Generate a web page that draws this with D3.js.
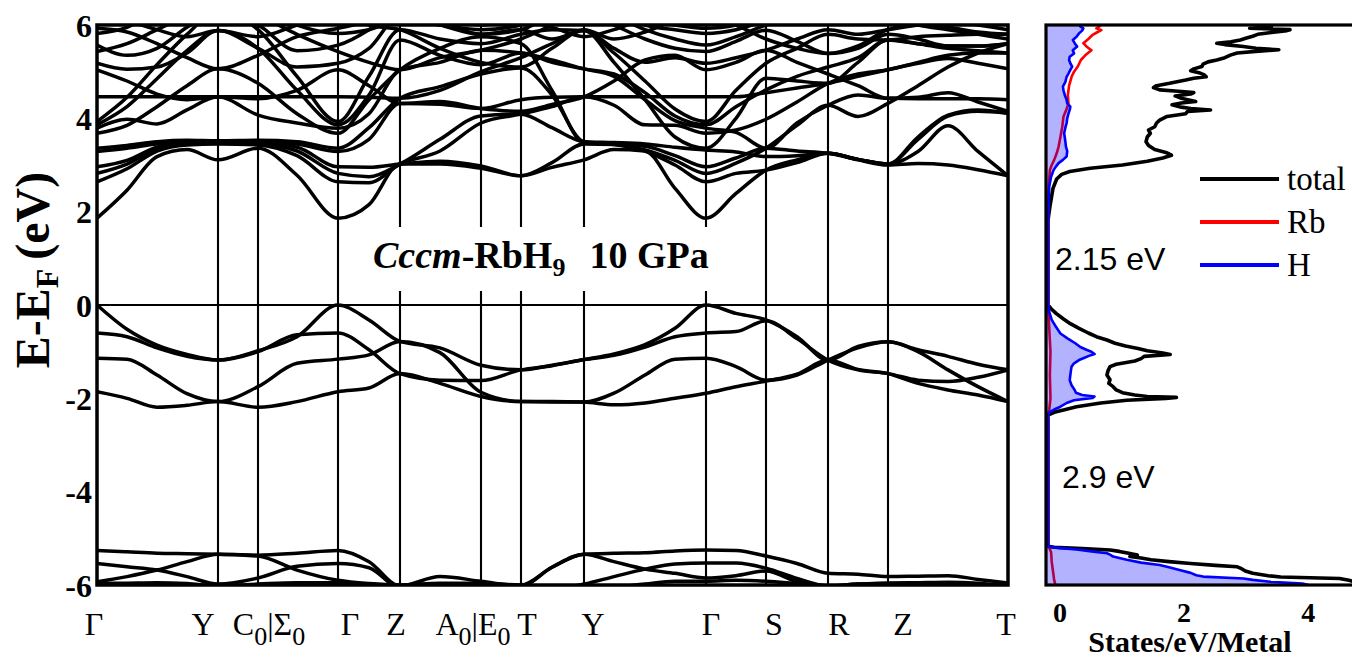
<!DOCTYPE html>
<html>
<head>
<meta charset="utf-8">
<script src="https://cdn.jsdelivr.net/npm/d3@7"></script>
<style>
  body { margin: 0; background: #fff; }
  text { fill: #000; }
</style>
</head>
<body>
<svg id="fig" width="1352" height="660"></svg>
<script>
// ---------- k-path ----------
const kTickPos = [0, 121, 161, 241, 303, 384, 424, 487, 609, 669, 731, 791, 911];
const kTickLabels = [["Γ"], ["Y"], ["C", "0", "|Σ", "0"], ["Γ"], ["Z"], ["A", "0", "|E", "0"], ["T"], ["Y"], ["Γ"], ["S"], ["R"], ["Z"], ["T"]];
// sampled k positions along the path (same for every band)
const kNodes = [0, 30, 60, 90, 121, 161, 200, 241, 272, 303, 343, 384, 424, 455, 487, 517, 548, 578, 609, 639, 669, 700, 731, 761, 791, 821, 851, 881, 911];

// ---------- energies (eV) of each band at kNodes ----------
const valenceBands = [
  [0, -0.52, -0.86, -1.06, -1.18, -0.98, -0.68, 0, -0.32, -0.78, -0.92, -1.29, -1.39, -1.29, -1.17, -1.05, -0.85, -0.50, 0, -0.18, -0.32, -0.68, -1.18, -0.89, -0.79, -0.96, -1.10, -1.27, -1.39],
  [-0.60, -0.68, -0.92, -1.10, -1.18, -1.00, -0.64, -0.60, -0.96, -1.47, -1.61, -1.62, -1.39, -1.30, -1.17, -1.08, -0.90, -0.68, -0.60, -0.57, -0.34, -0.72, -1.18, -1.39, -1.47, -1.61, -1.64, -1.55, -1.39],
  [-1.14, -1.16, -1.50, -1.90, -2.07, -1.75, -1.25, -1.16, -1.07, -0.78, -1.02, -1.87, -2.07, -2.08, -2.08, -1.89, -1.50, -1.16, -1.14, -1.32, -1.61, -1.50, -1.18, -0.92, -0.79, -1.00, -1.39, -1.75, -2.07],
  [-1.86, -2.00, -2.19, -2.15, -2.07, -2.19, -2.07, -1.86, -1.78, -1.47, -1.68, -1.96, -2.07, -2.07, -2.08, -2.14, -2.10, -2.00, -1.89, -1.75, -1.63, -1.48, -1.18, -1.38, -1.47, -1.68, -1.82, -1.93, -2.07]
];

const lowBands = [
  [-5.26, -5.29, -5.32, -5.33, -5.34, -5.36, -5.32, -5.26, -5.50, -6.02, -5.82, -5.92, -6.02, -5.62, -5.34, -5.32, -5.31, -5.27, -5.25, -5.26, -5.38, -5.54, -5.75, -5.77, -5.82, -5.81, -5.80, -5.88, -5.96],
  [-5.54, -5.61, -5.68, -5.82, -5.98, -5.85, -5.60, -5.54, -5.63, -6.05, -6.05, -6.05, -6.05, -6.08, -5.98, -5.82, -5.66, -5.55, -5.53, -5.53, -5.64, -5.86, -6.02, -5.98, -5.96, -5.97, -5.96, -5.98, -6.02],
  [-5.93, -5.82, -5.68, -5.50, -5.34, -5.38, -5.68, -5.90, -5.97, -6.00, -5.96, -5.96, -6.00, -5.62, -5.34, -5.50, -5.66, -5.75, -5.85, -5.80, -5.70, -5.93, -6.05, -6.05, -6.03, -6.02, -6.00, -6.00, -6.02],
  [-5.97, -5.96, -5.95, -5.97, -6.02, -5.98, -5.95, -5.95, -6.00, -6.05, -5.98, -5.98, -6.05, -6.10, -6.10, -6.05, -5.98, -5.92, -5.92, -5.90, -5.92, -5.97, -6.02, -5.98, -5.96, -5.95, -5.94, -5.96, -6.02]
];

const conductionBands = [
  [1.86, 2.46, 3.18, 3.33, 3.11, 3.36, 2.78, 1.86, 2.15, 3.02, 3.02, 2.93, 2.77, 2.95, 3.11, 3.33, 3.30, 2.50, 1.86, 2.39, 2.89, 3.11, 3.25, 3.11, 3.00, 3.03, 3.00, 2.90, 2.77],
  [2.64, 2.92, 3.30, 3.43, 3.45, 3.43, 3.20, 2.64, 2.62, 3.02, 3.30, 3.90, 4.09, 4.25, 4.46, 4.28, 3.86, 3.85, 3.68, 3.75, 3.98, 4.35, 4.75, 4.95, 5.04, 5.20, 5.35, 5.40, 5.40],
  [2.82, 3.02, 3.35, 3.45, 3.47, 3.45, 3.30, 2.82, 2.75, 3.02, 3.55, 4.05, 4.09, 3.80, 3.50, 3.48, 3.45, 3.38, 3.32, 3.28, 3.18, 3.20, 3.25, 3.12, 3.02, 3.55, 4.05, 4.15, 4.11],
  [2.96, 3.10, 3.38, 3.47, 3.48, 3.47, 3.38, 2.96, 2.95, 3.02, 3.08, 2.98, 2.77, 3.05, 3.45, 3.44, 3.40, 3.20, 2.96, 3.15, 3.36, 3.30, 3.25, 3.12, 3.02, 3.29, 3.84, 3.29, 2.77],
  [3.29, 3.36, 3.45, 3.50, 3.50, 3.50, 3.45, 3.29, 3.55, 4.32, 4.30, 4.21, 4.40, 4.45, 4.46, 4.46, 4.46, 4.46, 4.46, 4.46, 4.55, 4.65, 4.75, 4.90, 5.04, 5.18, 5.28, 5.18, 5.06],
  [3.36, 3.42, 3.50, 3.53, 3.52, 3.53, 3.50, 3.36, 3.80, 4.43, 4.68, 4.95, 5.08, 4.50, 3.50, 3.45, 3.30, 3.00, 2.64, 2.82, 2.89, 3.05, 3.25, 3.12, 3.02, 3.60, 4.07, 4.18, 4.11],
  [3.79, 3.98, 3.88, 4.18, 4.46, 4.07, 3.90, 3.79, 4.10, 5.04, 5.20, 5.46, 5.40, 5.25, 5.06, 4.90, 4.40, 3.95, 3.79, 3.70, 3.36, 3.90, 4.28, 4.50, 4.43, 4.42, 4.42, 4.42, 4.40],
  [3.68, 3.85, 4.25, 4.70, 5.06, 4.75, 4.10, 3.68, 4.40, 5.04, 5.50, 5.75, 5.60, 4.60, 3.48, 3.44, 3.32, 3.10, 2.82, 3.04, 3.36, 3.85, 4.28, 4.04, 4.32, 4.70, 5.10, 5.40, 5.60],
  [3.86, 4.25, 4.85, 5.45, 5.88, 5.50, 4.60, 3.86, 4.50, 5.68, 5.35, 5.15, 5.40, 5.20, 5.06, 4.95, 4.55, 4.05, 3.86, 4.25, 4.61, 4.90, 5.10, 5.30, 5.68, 5.60, 5.50, 5.45, 5.40],
  [3.93, 4.45, 5.15, 5.80, 6.30, 5.90, 4.90, 3.93, 4.90, 5.90, 5.70, 5.60, 5.80, 5.90, 5.88, 5.40, 4.80, 4.20, 3.93, 4.60, 5.18, 5.50, 5.80, 5.70, 5.68, 5.75, 5.78, 5.80, 5.80],
  [4.46, 4.46, 4.46, 4.46, 4.46, 4.46, 4.46, 4.46, 4.45, 4.43, 4.60, 5.00, 5.30, 5.60, 5.88, 5.20, 4.40, 3.60, 3.36, 4.00, 4.86, 4.80, 4.75, 5.20, 5.68, 5.60, 5.55, 5.55, 5.60],
  [5.04, 4.80, 4.52, 4.40, 4.46, 4.42, 4.60, 5.04, 4.70, 4.32, 4.36, 4.21, 4.15, 4.30, 4.46, 4.80, 5.25, 5.35, 5.04, 5.20, 5.46, 5.20, 4.95, 4.70, 4.43, 4.45, 4.55, 4.35, 4.15],
  [5.18, 5.05, 5.10, 5.40, 5.88, 5.50, 5.10, 5.18, 5.50, 6.20, 6.00, 5.80, 5.90, 5.70, 5.88, 5.50, 5.20, 5.30, 5.18, 5.30, 5.46, 5.70, 5.90, 5.80, 5.90, 6.00, 6.10, 6.00, 5.90],
  [5.43, 5.60, 5.90, 6.20, 6.40, 6.20, 5.80, 5.43, 5.20, 5.04, 5.30, 5.46, 5.70, 6.00, 6.30, 6.00, 5.70, 5.50, 5.43, 5.65, 5.89, 5.65, 5.39, 5.55, 5.90, 6.00, 5.95, 5.85, 5.80],
  [5.57, 5.35, 5.50, 5.95, 6.30, 6.00, 5.45, 5.57, 5.90, 6.40, 6.10, 5.80, 5.90, 6.20, 6.40, 6.20, 5.90, 5.70, 5.57, 5.75, 6.00, 6.20, 6.30, 6.20, 6.10, 6.20, 6.30, 6.20, 6.10],
  [5.82, 5.95, 6.30, 6.50, 6.50, 6.40, 6.00, 5.82, 5.90, 6.10, 6.00, 5.90, 6.00, 6.20, 6.50, 6.30, 6.00, 5.90, 5.82, 5.90, 6.10, 6.30, 6.40, 6.30, 6.20, 6.10, 6.20, 6.30, 6.40],
  [5.93, 5.85, 5.60, 5.30, 5.06, 5.35, 5.75, 5.93, 6.10, 6.50, 6.20, 6.00, 6.10, 5.95, 5.75, 5.90, 6.10, 6.00, 5.93, 6.00, 6.20, 6.30, 6.40, 6.30, 6.20, 6.00, 5.90, 5.80, 5.70],
  [6.30, 6.10, 5.90, 5.75, 5.88, 5.75, 6.00, 6.30, 6.00, 5.90, 5.50, 5.20, 5.10, 5.50, 5.90, 5.70, 5.85, 6.10, 6.20, 6.00, 5.70, 5.50, 5.39, 5.50, 5.80, 5.70, 5.55, 5.55, 5.60]
];

// ---------- density of states: [energy (eV), states/eV/metal] ----------
const dosTotal = [
  [-6.00, 5.20], [-5.95, 5.00], [-5.90, 4.85], [-5.86, 4.70], [-5.83, 3.75], [-5.80, 3.55], [-5.75, 3.30], [-5.70, 3.18], [-5.65, 3.12], [-5.61, 3.05], [-5.58, 2.70], [-5.54, 2.30], [-5.50, 1.95], [-5.46, 1.66], [-5.42, 1.50], [-5.39, 1.32], [-5.36, 1.44], [-5.32, 1.30], [-5.28, 1.15], [-5.25, 1.00], [-5.22, 0.55], [-5.19, 0.10], [-5.17, 0],
  [-2.36, 0], [-2.30, 0.10], [-2.25, 0.25], [-2.18, 0.46], [-2.10, 0.85], [-2.04, 1.27], [-2.00, 1.90], [-1.98, 2.07], [-1.96, 1.60], [-1.93, 1.40], [-1.88, 1.20], [-1.82, 1.10], [-1.75, 1.05], [-1.68, 0.98], [-1.60, 1.00], [-1.50, 0.95], [-1.40, 0.97], [-1.32, 1.00], [-1.27, 1.10], [-1.20, 1.40], [-1.15, 1.50], [-1.10, 1.55], [-1.06, 1.97], [-1.03, 1.85], [-0.98, 1.60], [-0.93, 1.45], [-0.88, 1.25], [-0.82, 1.08], [-0.75, 0.95], [-0.68, 0.78], [-0.60, 0.65], [-0.50, 0.50], [-0.40, 0.36], [-0.30, 0.25], [-0.18, 0.13], [-0.08, 0.05], [0, 0],
  [1.82, 0], [2.10, 0.03], [2.50, 0.08], [2.70, 0.14], [2.80, 0.22], [2.86, 0.35], [2.93, 0.68], [3.00, 1.20], [3.08, 1.60], [3.15, 1.85], [3.21, 1.99], [3.27, 1.90], [3.33, 1.72], [3.42, 1.62], [3.50, 1.58], [3.60, 1.60], [3.68, 1.65], [3.75, 1.62], [3.82, 1.72], [3.90, 1.75], [3.96, 1.80], [4.04, 1.92], [4.10, 2.22], [4.15, 2.25], [4.18, 2.62], [4.21, 2.30], [4.24, 2.15], [4.29, 2.00], [4.33, 2.15], [4.36, 2.38], [4.40, 2.25], [4.43, 2.15], [4.48, 2.05], [4.52, 2.30], [4.55, 2.35], [4.58, 2.10], [4.61, 1.80], [4.66, 1.70], [4.70, 1.75], [4.75, 1.96], [4.82, 2.22], [4.86, 2.35], [4.89, 2.55], [4.93, 2.52], [4.97, 2.45], [5.02, 2.30], [5.06, 2.35], [5.11, 2.48], [5.16, 2.50], [5.21, 2.58], [5.25, 2.72], [5.30, 2.85], [5.36, 2.95], [5.40, 3.05], [5.44, 3.40], [5.47, 3.72], [5.50, 3.35], [5.54, 3.15], [5.58, 2.85], [5.61, 2.72], [5.64, 2.95], [5.68, 3.10], [5.72, 3.20], [5.76, 3.30], [5.80, 3.38], [5.84, 3.60], [5.88, 3.85], [5.90, 3.90], [5.93, 3.25], [5.96, 3.60], [5.98, 3.40], [6.00, 3.50]
];
const dosRb = [
  [-6.00, 0.12], [-5.90, 0.10], [-5.70, 0.08], [-5.50, 0.06], [-5.30, 0.05], [-5.20, 0.02], [-5.18, 0],
  [-2.34, 0], [-2.25, 0.02], [-2.00, 0.04], [-1.50, 0.03], [-1.00, 0.04], [-0.50, 0.02], [0, 0],
  [1.82, 0], [2.50, 0.01], [2.89, 0.03], [3.00, 0.06], [3.11, 0.10], [3.25, 0.14], [3.39, 0.17], [3.60, 0.20], [3.82, 0.23], [4.04, 0.25], [4.20, 0.30], [4.32, 0.33], [4.50, 0.32], [4.70, 0.34], [4.89, 0.38], [5.00, 0.42], [5.11, 0.48], [5.25, 0.53], [5.35, 0.60], [5.46, 0.70], [5.54, 0.62], [5.61, 0.57], [5.70, 0.65], [5.79, 0.72], [5.85, 0.80], [5.89, 0.86], [5.93, 0.78], [5.97, 0.83], [6.00, 0.80]
];
const dosH = [
  [-6.00, 4.20], [-5.97, 4.10], [-5.93, 3.58], [-5.89, 3.30], [-5.86, 3.15], [-5.82, 2.50], [-5.79, 2.39], [-5.74, 2.30], [-5.68, 2.12], [-5.62, 1.95], [-5.57, 1.80], [-5.52, 1.50], [-5.46, 1.27], [-5.42, 1.15], [-5.39, 1.05], [-5.35, 1.00], [-5.32, 0.95], [-5.28, 0.70], [-5.24, 0.46], [-5.21, 0.20], [-5.18, 0],
  [-2.34, 0], [-2.29, 0.03], [-2.24, 0.10], [-2.18, 0.20], [-2.10, 0.30], [-2.04, 0.42], [-1.99, 0.72], [-1.96, 0.75], [-1.93, 0.55], [-1.88, 0.45], [-1.82, 0.43], [-1.72, 0.38], [-1.61, 0.35], [-1.50, 0.36], [-1.40, 0.37], [-1.32, 0.38], [-1.25, 0.42], [-1.18, 0.50], [-1.14, 0.57], [-1.09, 0.66], [-1.05, 0.75], [-1.00, 0.70], [-0.96, 0.62], [-0.90, 0.52], [-0.82, 0.44], [-0.72, 0.32], [-0.61, 0.20], [-0.45, 0.12], [-0.32, 0.06], [-0.15, 0.02], [0, 0],
  [1.82, 0], [2.20, 0.01], [2.54, 0.02], [2.75, 0.05], [2.89, 0.09], [2.97, 0.13], [3.04, 0.17], [3.11, 0.24], [3.18, 0.30], [3.30, 0.31], [3.39, 0.29], [3.50, 0.28], [3.60, 0.27], [3.68, 0.26], [3.80, 0.28], [3.90, 0.30], [4.00, 0.31], [4.10, 0.33], [4.18, 0.35], [4.25, 0.36], [4.32, 0.31], [4.40, 0.30], [4.50, 0.27], [4.60, 0.25], [4.68, 0.24], [4.78, 0.28], [4.89, 0.30], [4.96, 0.33], [5.04, 0.36], [5.11, 0.39], [5.18, 0.36], [5.25, 0.34], [5.32, 0.35], [5.39, 0.42], [5.46, 0.40], [5.54, 0.47], [5.61, 0.43], [5.68, 0.40], [5.75, 0.46], [5.82, 0.50], [5.88, 0.55], [5.93, 0.57], [5.97, 0.52], [6.00, 0.55]
];

const energyTicks = [-6, -4, -2, 0, 2, 4, 6];
const dosTicks = [0, 2, 4];
const gapLabels = [{ text: "2.15 eV", e: 1.0 }, { text: "2.9 eV", e: -3.67 }];
const legendItems = [{ name: "total", color: "#000" }, { name: "Rb", color: "#ff0000" }, { name: "H", color: "#0000ff" }];

// ---------- layout ----------
const SERIF = "'Liberation Serif', 'Times New Roman', serif";
const SANS = "'Liberation Sans', Arial, sans-serif";
const svg = d3.select("#fig");
const band = { left: 97, right: 1008, top: 25, bottom: 585 };
const dosBox = { left: 1046, right: 1362, top: 25, bottom: 585 };

const x = d3.scaleLinear().domain([0, 911]).range([band.left, band.right]);
const y = d3.scaleLinear().domain([-6, 6]).range([band.bottom, band.top]);
const xd = d3.scaleLinear().domain([0, 4.9]).range([1048, 1352]);

const defs = svg.append("defs");
defs.append("clipPath").attr("id", "clipBand").append("rect")
  .attr("x", band.left).attr("y", band.top)
  .attr("width", band.right - band.left).attr("height", band.bottom - band.top);
defs.append("clipPath").attr("id", "clipDos").append("rect")
  .attr("x", dosBox.left).attr("y", dosBox.top)
  .attr("width", dosBox.right - dosBox.left).attr("height", dosBox.bottom - dosBox.top);

// ---------- band-structure panel ----------
const gB = svg.append("g");

// high-symmetry verticals
gB.selectAll("line.kline").data(kTickPos.slice(1, -1)).join("line")
  .attr("x1", d => x(d)).attr("x2", d => x(d))
  .attr("y1", band.top).attr("y2", band.bottom)
  .attr("stroke", "#000").attr("stroke-width", 2.1);

// Fermi level
gB.append("line")
  .attr("x1", band.left).attr("x2", band.right)
  .attr("y1", y(0)).attr("y2", y(0))
  .attr("stroke", "#000").attr("stroke-width", 1.8);

// band lines
const bandLine = d3.line()
  .x((d, i) => x(kNodes[i]))
  .y(d => y(d))
  .curve(d3.curveMonotoneX);
const allBands = [...lowBands, ...valenceBands, ...conductionBands];
gB.append("g").attr("clip-path", "url(#clipBand)")
  .selectAll("path").data(allBands).join("path")
  .attr("d", bandLine)
  .attr("fill", "none").attr("stroke", "#000")
  .attr("stroke-width", 3.5).attr("stroke-linejoin", "round");

// title with white backing
gB.append("rect").attr("x", 345).attr("y", 227).attr("width", 372).attr("height", 64).attr("fill", "#fff");
const title = gB.append("text")
  .attr("x", 373).attr("y", 268)
  .attr("font-family", SERIF).attr("font-weight", "bold").attr("font-size", 38);
title.append("tspan").attr("font-style", "italic").text("Cccm");
title.append("tspan").text("-RbH");
title.append("tspan").attr("font-size", 26).attr("dy", 8).text("9");
title.append("tspan").attr("dy", -8).attr("dx", 24).text("10 GPa");

// frame
gB.append("rect")
  .attr("x", band.left).attr("y", band.top)
  .attr("width", band.right - band.left).attr("height", band.bottom - band.top)
  .attr("fill", "none").attr("stroke", "#000").attr("stroke-width", 3.5);

// energy tick labels
gB.selectAll("text.etick").data(energyTicks).join("text")
  .attr("x", 92).attr("y", d => y(d)).attr("dy", "0.36em")
  .attr("text-anchor", "end")
  .attr("font-family", SERIF).attr("font-weight", "bold").attr("font-size", 32)
  .text(d => String(d));

// y-axis title
const yt = svg.append("text")
  .attr("transform", "translate(49,270) rotate(-90)")
  .attr("text-anchor", "middle")
  .attr("font-family", SERIF).attr("font-weight", "bold").attr("font-size", 48);
yt.append("tspan").text("E-E");
yt.append("tspan").attr("font-size", 32).attr("dy", 9).text("F");
yt.append("tspan").attr("dy", -9).attr("dx", 9).text("(eV)");

// k-point labels
const kLabelCenter = [94, 203, 269, 350, 396, 473, 527, 593, 711, 774, 839, 903, 1006];
kTickLabels.forEach((parts, i) => {
  const t = gB.append("text")
    .attr("x", kLabelCenter[i]).attr("y", 635)
    .attr("text-anchor", "middle")
    .attr("font-family", SERIF).attr("font-size", 32);
  if (parts.length === 1) {
    t.text(parts[0]);
  } else {
    t.append("tspan").text(parts[0]);
    t.append("tspan").attr("font-size", 26).attr("dy", 10).text(parts[1]);
    t.append("tspan").attr("dy", -10).text(parts[2]);
    t.append("tspan").attr("font-size", 26).attr("dy", 10).text(parts[3]);
  }
});

// ---------- DOS panel ----------
const gD = svg.append("g");
const gDc = gD.append("g").attr("clip-path", "url(#clipDos)");
const dosLine = d3.line().x(d => xd(d[1])).y(d => y(d[0]));
const dosArea = d3.area().y(d => y(d[0])).x0(dosBox.left).x1(d => xd(d[1]));

gDc.append("path").datum(dosTotal).attr("d", dosLine)
  .attr("fill", "none").attr("stroke", "#000").attr("stroke-width", 3.6).attr("stroke-linejoin", "round");
gDc.append("path").datum(dosRb).attr("d", dosLine)
  .attr("fill", "none").attr("stroke", "#ff0000").attr("stroke-width", 2.6).attr("stroke-linejoin", "round");
gDc.append("path").datum(dosH).attr("d", dosArea)
  .attr("fill", "#0000ff").attr("fill-opacity", 0.3);
gDc.append("path").datum(dosH).attr("d", dosLine)
  .attr("fill", "none").attr("stroke", "#0000ff").attr("stroke-width", 2.6).attr("stroke-linejoin", "round");

// DOS frame (right side runs off the canvas)
gD.append("rect")
  .attr("x", dosBox.left).attr("y", dosBox.top)
  .attr("width", dosBox.right - dosBox.left).attr("height", dosBox.bottom - dosBox.top)
  .attr("fill", "none").attr("stroke", "#000").attr("stroke-width", 3.2);

// DOS tick labels and title
gD.selectAll("text.dtick").data(dosTicks).join("text")
  .attr("x", d => xd(d) + 12).attr("y", 622)
  .attr("text-anchor", "middle")
  .attr("font-family", SERIF).attr("font-weight", "bold").attr("font-size", 28)
  .text(d => String(d));
gD.append("text")
  .attr("x", 1190).attr("y", 652).attr("text-anchor", "middle")
  .attr("font-family", SERIF).attr("font-weight", "bold").attr("font-size", 30)
  .text("States/eV/Metal");

// gap annotations
gD.selectAll("text.gap").data(gapLabels).join("text")
  .attr("x", (d, i) => i === 0 ? 1055 : 1062)
  .attr("y", d => y(d.e) + 12)
  .attr("font-family", SANS).attr("font-size", 32)
  .text(d => d.text);

// legend
const lg = gD.selectAll("g.leg").data(legendItems).join("g")
  .attr("transform", (d, i) => `translate(1200, ${179 + i * 43})`);
lg.append("line").attr("x1", 0).attr("x2", 79).attr("y1", 0).attr("y2", 0)
  .attr("stroke", d => d.color).attr("stroke-width", 4);
lg.append("text").attr("x", 87).attr("y", 11)
  .attr("font-family", SERIF).attr("font-size", 33)
  .text(d => d.name);
</script>
</body>
</html>
